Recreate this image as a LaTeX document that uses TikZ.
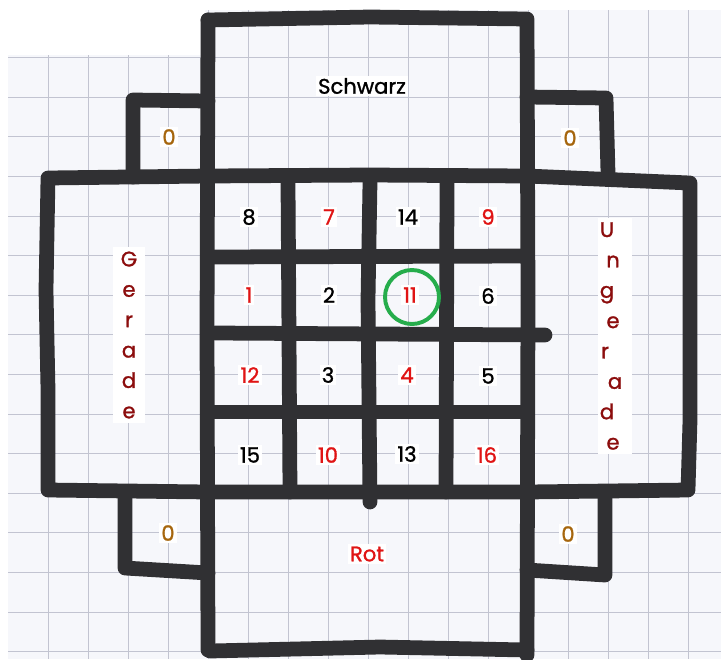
\documentclass[tikz,border=0pt]{standalone}
\usepackage{fontspec}
\setmainfont{Poppins}[FakeBold=1.2]
\definecolor{papier}{rgb}{0.965,0.97,0.985}
\definecolor{raster}{rgb}{0.76,0.77,0.82}
\definecolor{filzstift}{rgb}{0.19,0.19,0.2}
\definecolor{zahlrot}{rgb}{0.88,0.08,0.08}
\definecolor{wortrot}{rgb}{0.55,0.05,0.05}
\definecolor{nullbraun}{rgb}{0.65,0.4,0.05}
\definecolor{kreisgruen}{rgb}{0.15,0.68,0.3}

\begin{document}
\begin{tikzpicture}[x=0.25mm,y=-0.25mm,
  strich/.style={draw=filzstift,line width=10.5pt,line cap=round,line join=round},
  feld/.style={fill=white,inner sep=1.5pt,font=\fontsize{15}{21.6}\selectfont},
  rotzahl/.style={feld,text=zahlrot},
  schwarzzahl/.style={feld,text=black},
  null/.style={feld,text=nullbraun},
  wort/.style={feld,text=wortrot,align=center,minimum width=8mm,inner ysep=3pt}]
\useasboundingbox (0,0) rectangle (721,659);
\fill[white] (0,0) rectangle (721,659);
\fill[papier] (8,10) rectangle (721,659);
\foreach \k in {1,...,17}
  \draw[raster,line width=0.6pt] ({8+40*\k},10) -- ({8+40*\k},659);
\foreach \k in {1,...,16}
  \draw[raster,line width=0.6pt] (8,{18+39.6*\k}) -- (721,{18+39.6*\k});
\fill[white] (8,10) rectangle (205,55);

\draw[strich] (208,20) -- (370,17) -- (527,19) -- (528,300) -- (527,655);
\draw[strich] (208,650) -- (207,330) -- (208,20);
\draw[strich] (210,651) -- (380,647) -- (527,650);
\draw[strich] (48,178) -- (208,176) -- (370,175) -- (527,176) -- (690,183) -- (690,420) -- (688,490) -- (527,492) -- (208,492) -- (48,490) -- (48,390) -- (46,290) -- cycle;
\draw[strich] (288,183) -- (290,492);
\draw[strich] (370,182) -- (368,300) -- (370,502);
\draw[strich] (447,183) -- (446,492);
\draw[strich] (210,257) -- (527,256);
\draw[strich] (215,333) -- (545,335);
\draw[strich] (210,412) -- (527,412);
\draw[strich] (208,101) -- (133,100) -- (133,177);
\draw[strich] (527,97) -- (606,98) -- (608,173);
\draw[strich] (125,492) -- (125,568) -- (208,573);
\draw[strich] (605,492) -- (605,575) -- (527,570);

\node[feld] (schwarz) at (362,86) {Schwarz};
\node[rotzahl] (rot) at (367,554) {Rot};
\node[null] (nullol) at (169,137) {0};
\node[null] (nullor) at (570,138) {0};
\node[null] (nullul) at (168,533) {0};
\node[null] (nullur) at (568,534) {0};
\node[wort] (gerade) at (129,335) {G\\e\\r\\a\\d\\e};
\node[wort,minimum width=8.5mm] (ungerade) at (615,336) {\hspace*{-4mm}U\\\hspace*{-1mm}n\\\hspace*{-4mm}g\\\hspace*{-1mm}e\\\hspace*{-5mm}r\\a\\\hspace*{-4mm}d\\\hspace*{-1mm}e};

\node[schwarzzahl] (z8) at (249,217) {8};
\node[rotzahl] (z7) at (329,217) {7};
\node[schwarzzahl] (z14) at (408,217) {14};
\node[rotzahl] (z9) at (488,217) {9};
\node[rotzahl] (z1) at (249,295) {1};
\node[schwarzzahl] (z2) at (329,295) {2};
\node[rotzahl] (z11) at (410,295) {11};
\node[schwarzzahl] (z6) at (488,296) {6};
\node[rotzahl] (z12) at (250,375) {12};
\node[schwarzzahl] (z3) at (328,375) {3};
\node[rotzahl] (z4) at (407,375) {4};
\node[schwarzzahl] (z5) at (488,376) {5};
\node[schwarzzahl] (z15) at (250,455) {15};
\node[rotzahl] (z10) at (328,455) {10};
\node[schwarzzahl] (z13) at (407,454) {13};
\node[rotzahl] (z16) at (487,455) {16};

\draw[kreisgruen,line width=2.8pt] ([xshift=0.5mm,yshift=-0.5mm]z11.center) circle (6.75mm);
\end{tikzpicture}
\end{document}
